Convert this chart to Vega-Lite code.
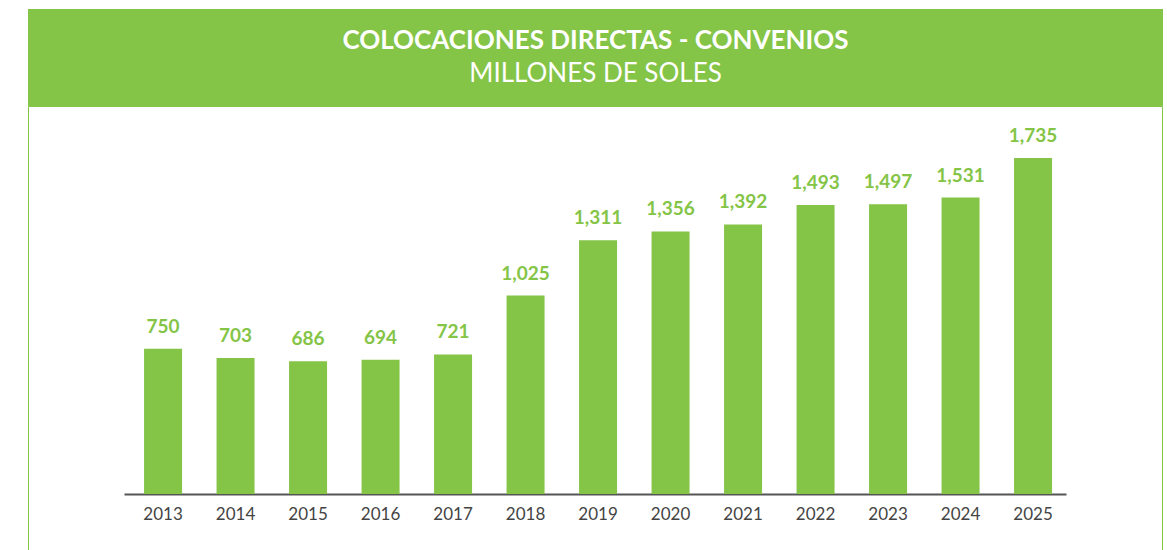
{
  "$schema": "https://vega.github.io/schema/vega-lite/v6.json",
  "padding": {"left": 27, "top": 9, "right": 0, "bottom": 0},
  "spacing": -1,
  "background": "white",
  "config": {"font": "Lato"},
  "vconcat": [
    {
      "width": 1135,
      "height": 97,
      "view": {"fill": "#84C446", "stroke": null},
      "data": {"values": [
        {"row": 1, "t": "COLOCACIONES DIRECTAS - CONVENIOS"},
        {"row": 2, "t": "MILLONES DE SOLES"}
      ]},
      "layer": [
        {
          "transform": [{"filter": "datum.row == 1"}],
          "mark": {"type": "text", "font": "Lato", "fontWeight": "bold", "fontSize": 26, "color": "white", "baseline": "middle", "align": "center"},
          "encoding": {
            "y": {"field": "row", "type": "ordinal", "scale": {"type": "point", "padding": 1, "domain": [1, 2]}, "axis": null},
            "text": {"field": "t"}
          }
        },
        {
          "transform": [{"filter": "datum.row == 2"}],
          "mark": {"type": "text", "font": "Lato", "fontWeight": "normal", "fontSize": 26, "color": "white", "baseline": "middle", "align": "center"},
          "encoding": {
            "y": {"field": "row", "type": "ordinal", "scale": {"type": "point", "padding": 1, "domain": [1, 2]}, "axis": null},
            "text": {"field": "t"}
          }
        }
      ]
    },
    {
      "width": 1134,
      "height": 445,
      "view": {"stroke": "#84C446", "strokeWidth": 1, "fill": null},
      "data": {"values": [
        {"year": "2013", "value": 750},
        {"year": "2014", "value": 703},
        {"year": "2015", "value": 686},
        {"year": "2016", "value": 694},
        {"year": "2017", "value": 721},
        {"year": "2018", "value": 1025},
        {"year": "2019", "value": 1311},
        {"year": "2020", "value": 1356},
        {"year": "2021", "value": 1392},
        {"year": "2022", "value": 1493},
        {"year": "2023", "value": 1497},
        {"year": "2024", "value": 1531},
        {"year": "2025", "value": 1735}
      ]},
      "encoding": {
        "x": {
          "field": "year", "type": "ordinal",
          "scale": {"type": "band", "range": [96, 1038], "paddingInner": 0.476, "paddingOuter": 0.2345, "align": 0.59},
          "axis": {
            "title": null, "labelAngle": 0, "ticks": false, "offset": -57,
            "domainColor": "#555555", "domainWidth": 2,
            "labelColor": "#444444", "labelFont": "Lato", "labelFontSize": 17, "labelPadding": 12
          }
        },
        "y": {
          "field": "value", "type": "quantitative",
          "scale": {"domain": [0, 2004], "range": [388, 0], "nice": false, "zero": true},
          "axis": null
        }
      },
      "layer": [
        {"mark": {"type": "bar", "color": "#84C446"}},
        {
          "mark": {"type": "text", "font": "Lato", "fontWeight": "bold", "fontSize": 19, "color": "#84C446", "baseline": "bottom", "dy": -12},
          "encoding": {"text": {"field": "value", "type": "quantitative", "format": ","}}
        }
      ]
    }
  ]
}
